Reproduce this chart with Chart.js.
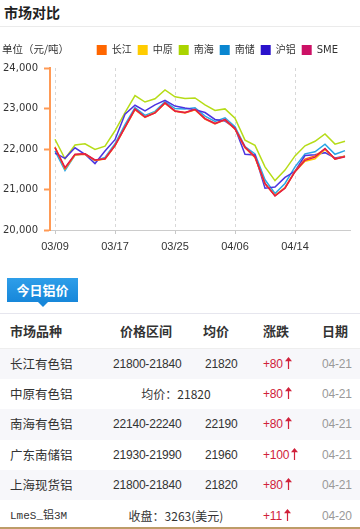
<!DOCTYPE html>
<html lang="zh-CN">
<head>
<meta charset="utf-8">
<title>市场对比</title>
<script src="https://cdn.jsdelivr.net/npm/chart.js@4.4.1/dist/chart.umd.min.js"></script>
<style>
html,body{margin:0;padding:0;background:#fff;}
body{width:360px;height:529px;position:relative;overflow:hidden;font-family:"Noto Sans CJK SC","DejaVu Sans",sans-serif;color:#333;}
.title{position:absolute;left:4px;top:2px;line-height:20px;font-size:14px;font-weight:bold;color:#222;}
.rule{position:absolute;left:0;width:360px;height:1px;background:#ebebeb;}
.unit{position:absolute;left:2px;top:41px;font-size:10.5px;line-height:16px;color:#333;}
#chartBox{position:absolute;left:0;top:30px;width:360px;height:230px;}
.tab{position:absolute;left:7px;top:278px;width:71px;height:24px;line-height:24px;text-align:center;color:#fff;font-size:13px;font-weight:bold;background:linear-gradient(#2e9ee9,#1787da);}
.tab:after{content:"";position:absolute;left:31px;bottom:-5px;border-left:5px solid transparent;border-right:5px solid transparent;border-top:5px solid #1787da;}
.row{position:absolute;left:0;width:360px;}
.row.alt{background:#f7f7fa;}
.cell{position:absolute;top:0;white-space:nowrap;}
.head .cell{font-size:13px;font-weight:bold;color:#333;}
.name{font-size:12.5px;color:#333;}
.num{font-family:"Liberation Sans","Noto Sans CJK SC",sans-serif;font-size:12px;letter-spacing:-0.2px;color:#333;}
.merged{font-size:12px;color:#333;text-align:center;width:140px;}
.chg{font-family:"Liberation Sans",sans-serif;font-size:12px;color:#d0213a;letter-spacing:-0.2px;}
.chg svg{vertical-align:-1px;margin-left:2px;}
.date{font-family:"Liberation Sans",sans-serif;font-size:12px;color:#999;letter-spacing:-0.2px;}
.mono{font-family:"Liberation Mono","Noto Sans CJK SC",monospace;font-size:11px;color:#333;}
.gold{position:absolute;left:0;top:527px;width:360px;height:2px;background:#bd9c68;}
</style>
</head>
<body>
<div class="title">市场对比</div>
<div class="rule" style="top:26px"></div>
<div id="chartBox"><canvas id="priceChart" width="360" height="230"></canvas></div>
<div class="unit">单位（元/吨）</div>

<div class="tab">今日铝价</div>
<div class="rule" style="top:313px;background:#e6e6ee"></div>
<div id="table"></div>
<div class="gold"></div>

<script>
// Trading days shown on the category axis (a label is printed every 6th day)
const dates = ['03/09','03/10','03/11','03/12','03/13','03/16','03/17','03/18','03/19','03/20',
               '03/23','03/24','03/25','03/26','03/27','03/30','03/31','04/01','04/06','04/07',
               '04/08','04/09','04/10','04/13','04/14','04/15','04/16','04/17','04/20','04/21'];
// daily prices, yuan per tonne
const changjiang = [22040,21520,21860,21870,21720,21750,22080,22530,22970,22780,22890,23130,22930,22890,22970,22740,22620,22720,22490,22030,21790,21140,20850,21050,21450,21750,21830,22000,21760,21820];
const zhongyuan  = [22050,21510,21850,21880,21720,21760,22090,22540,22980,22790,22900,23130,22940,22900,22970,22750,22630,22720,22500,22040,21800,21150,20850,21040,21440,21700,21760,21990,21750,21820];
const nanhai     = [22240,21760,22100,22130,21990,22070,22450,22900,23320,23160,23240,23460,23290,23250,23260,23090,22950,22990,22760,22220,22090,21560,21220,21480,21830,22080,22190,22370,22120,22190];
const nanchu     = [21950,21470,21850,21880,21710,21790,22130,22600,23020,22830,22930,23170,23000,22990,23020,22810,22680,22770,22550,22060,21880,21240,20900,21150,21560,21880,21930,22120,21870,21960];
const hulv       = [21900,21770,22030,21870,21640,21950,22230,22860,23080,22940,23090,23200,23060,23010,22970,22900,22730,22690,22520,21870,21850,21030,21060,21300,21450,21840,21860,21910,21780,21820];
const sme        = [22030,21540,21870,21880,21730,21760,22090,22540,22990,22790,22890,23140,22940,22900,22980,22750,22630,22730,22500,22050,21810,21150,20840,21030,21440,21720,21800,22010,21750,21810];

const seriesNames  = ['长江','中原','南海','南储','沪铝','SME'];
const seriesValues = [changjiang, zhongyuan, nanhai, nanchu, hulv, sme];
const lineColors   = ['#ff6a10','#ffc800','#b6dc18','#2aa6e6','#4c34e0','#e21a4a'];
const swatchColors = ['#ff6600','#ffcc00','#aad400','#0a86d0','#2a12cc','#cc1166'];
const drawOrder    = [1, 2, 5, 4, 3, 0];
const labelEvery   = 6;
const yMin = 20000, yMax = 24000, yStep = 1000;

// table of today's quotes
const marketNames = ['长江有色铝','中原有色铝','南海有色铝','广东南储铝','上海现货铝','LmeS_铝3M'];
const priceRanges = ['21800-21840', null, '22140-22240', '21930-21990', '21800-21840', null];
const avgPrices   = ['21820', null, '22190', '21960', '21820', null];
const mergedTexts = [null, '均价：21820', null, null, null, '收盘：3263(美元)'];
const changes     = ['+80','+80','+80','+100','+80','+11'];
const quoteDates  = ['04-21','04-21','04-21','04-21','04-21','04-20'];

Chart.defaults.font.family = '"DejaVu Sans","Noto Sans CJK SC",sans-serif';
Chart.defaults.color = '#333';

const gridOn = (ctx) => (ctx.index % labelEvery === 0 ? 1 : 0);

// legend sits a little left of the right edge and leaves a gap above the plot
const legendPlacement = {
  id: 'legendPlacement',
  beforeInit(chart) {
    const legend = chart.legend;
    const fit = legend.fit;
    legend.fit = function () { fit.call(this); this.height += 3; };
    const draw = legend.draw;
    legend.draw = function () {
      const ctx = this.ctx;
      ctx.save();
      ctx.translate(-6, 0);
      draw.call(this);
      ctx.restore();
    };
  }
};

new Chart(document.getElementById('priceChart'), {
  type: 'line',
  data: {
    labels: dates,
    datasets: seriesNames.map((name, i) => ({
      label: name,
      data: seriesValues[i],
      borderColor: lineColors[i],
      backgroundColor: swatchColors[i],
      borderWidth: 1.5,
      pointRadius: 0,
      pointHoverRadius: 0,
      tension: 0,
      fill: false,
      order: drawOrder[i]
    }))
  },
  plugins: [legendPlacement],
  options: {
    responsive: false,
    animation: false,
    layout: { padding: { top: 9, right: 10, left: 0, bottom: 0 } },
    plugins: {
      tooltip: { enabled: false },
      legend: {
        position: 'top',
        align: 'end',
        labels: {
          boxWidth: 10,
          boxHeight: 10,
          padding: 6,
          color: '#333',
          font: { size: 10 },
          sort: (a, b) => a.datasetIndex - b.datasetIndex,
          generateLabels(chart) {
            const items = Chart.defaults.plugins.legend.labels.generateLabels(chart);
            items.forEach(it => {
              it.fillStyle = swatchColors[it.datasetIndex];
              it.strokeStyle = swatchColors[it.datasetIndex];
              it.lineWidth = 0;
            });
            return items;
          }
        }
      }
    },
    scales: {
      x: {
        type: 'category',
        offset: true,
        afterFit(scale) { scale.height = 30; },
        grid: {
          offset: false,
          drawOnChartArea: true,
          color: '#d8d8d8',
          lineWidth: gridOn,
          tickLength: 4,
          tickColor: '#c8c8c8',
          tickWidth: gridOn
        },
        border: { display: true, color: '#cccccc', width: 1, dash: [3, 3] },
        ticks: {
          autoSkip: false,
          maxRotation: 0,
          padding: 6,
          color: '#333',
          font: { size: 11, family: '"Liberation Sans Narrow","Liberation Sans",sans-serif' },
          callback: (v, i) => (i % labelEvery === 0 ? dates[i] : '')
        }
      },
      y: {
        min: yMin,
        max: yMax,
        afterFit(scale) { scale.width = 50; },
        grid: {
          drawOnChartArea: false,
          drawTicks: true,
          tickLength: 6,
          tickWidth: 2,
          tickColor: '#ff9a55'
        },
        border: { display: true, color: '#ff9a55', width: 2 },
        ticks: {
          stepSize: yStep,
          padding: 6,
          color: '#333',
          font: { size: 10 },
          callback: (v) => v.toLocaleString('en-US')
        }
      }
    }
  }
});

// quote table
const arrow = '<svg width="7" height="12" viewBox="0 0 7 12"><path d="M3.5 0 L7 4.2 L4.1 4.2 L4.1 12 L2.9 12 L2.9 4.2 L0 4.2 Z" fill="#d0213a"/></svg>';
const table = document.getElementById('table');
let html = '<div class="row head" style="top:314px;height:34px;line-height:34px;border-bottom:1px solid #eeeeee">' +
  '<span class="cell" style="left:10px">市场品种</span>' +
  '<span class="cell" style="left:120px">价格区间</span>' +
  '<span class="cell" style="left:203px">均价</span>' +
  '<span class="cell" style="left:263px">涨跌</span>' +
  '<span class="cell" style="left:322px">日期</span></div>';
const rowTop = 348.5, rowH = 30.4;
marketNames.forEach((name, i) => {
  const top = rowTop + i * rowH;
  const lh = 'height:' + rowH + 'px;line-height:' + rowH + 'px;';
  html += '<div class="row' + (i % 2 === 0 ? ' alt' : '') + '" style="top:' + top + 'px;' + lh + '">';
  html += '<span class="cell ' + (name.startsWith('Lme') ? 'mono' : 'name') + '" style="left:10px">' + name + '</span>';
  if (mergedTexts[i]) {
    html += '<span class="cell merged" style="left:106px">' + mergedTexts[i] + '</span>';
  } else {
    html += '<span class="cell num" style="left:113px">' + priceRanges[i] + '</span>';
    html += '<span class="cell num" style="left:205px">' + avgPrices[i] + '</span>';
  }
  html += '<span class="cell chg" style="left:263px">' + changes[i] + arrow + '</span>';
  html += '<span class="cell date" style="left:322px">' + quoteDates[i] + '</span>';
  html += '</div>';
});
table.innerHTML = html;
</script>
</body>
</html>
